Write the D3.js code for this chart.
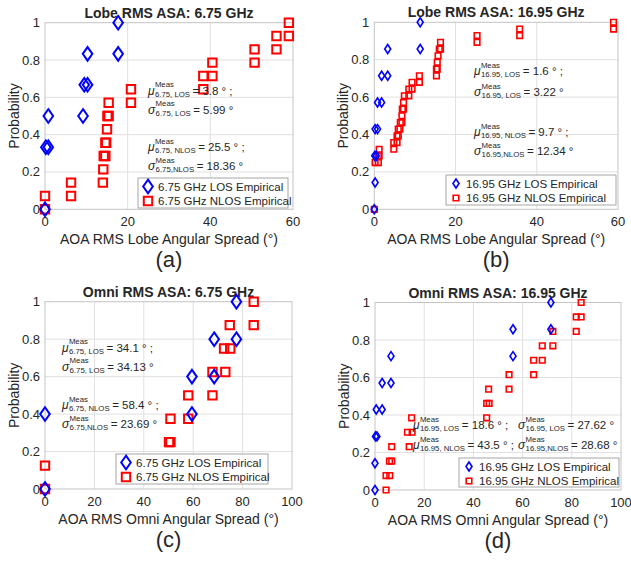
<!DOCTYPE html>
<html>
<head>
<meta charset="utf-8">
<script src="https://cdn.jsdelivr.net/npm/d3@7.9.0/dist/d3.min.js"></script>
<style>
  body { margin: 0; background: #fff; }
  svg { display: block; }
  text { font-family: "Liberation Sans", Arial, sans-serif; fill: #262626; }
</style>
</head>
<body>
<svg width="631" height="562"></svg>
<script>
// ---- data (empirical CDF points) ----
const probTicks = [0, 0.2, 0.4, 0.6, 0.8, 1];
const lobeTicks = [0, 20, 40, 60];
const omniTicks = [0, 20, 40, 60, 80, 100];

// (a) lobe 6.75 GHz
const aLosX = [0, 0.2, 0.8, 0.8, 9.2, 9.5, 10.3, 10.3, 17.7, 17.7];
const aLosY = [0, 0.333, 0.333, 0.5, 0.5, 0.667, 0.667, 0.833, 0.833, 1];
const aNlosX = [0, 0, 6.3, 6.3, 14.0, 14.1, 14.2, 14.6, 14.6, 14.8, 15.0, 15.1, 15.4, 15.4, 20.8, 20.8, 38.3, 38.3, 40.5, 40.5, 50.7, 50.7, 56, 56, 59, 59];
const aNlosY = [0, 0.071, 0.071, 0.143, 0.143, 0.214, 0.286, 0.286, 0.357, 0.357, 0.429, 0.5, 0.5, 0.571, 0.571, 0.643, 0.643, 0.714, 0.714, 0.786, 0.786, 0.857, 0.857, 0.929, 0.929, 1];

// (b) lobe 16.95 GHz
const bLosX = [0, 0.2, 0.1, 0.5, 0.2, 0.8, 0.8, 1.8, 1.8, 3.3, 3.3, 11.3, 11.3];
const bLosY = [0, 0.143, 0.286, 0.286, 0.429, 0.429, 0.571, 0.571, 0.714, 0.714, 0.857, 0.857, 1];
const bNlosX = [0, 0.2, 1.0, 1.0, 1.2, 1.2, 4.8, 4.8, 5.6, 5.6, 5.9, 5.9, 6.3, 6.4, 6.8, 6.8, 6.9, 7.2, 7.2, 7.4, 8.5, 8.5, 9.3, 9.3, 11.1, 11.1, 15.3, 15.3, 15.5, 15.5, 15.7, 16.0, 16.3, 16.3, 25.3, 25.3, 35.8, 35.8, 58.9, 58.9];
const bNlosY = [0, 0.25, 0.25, 0.286, 0.286, 0.321, 0.321, 0.357, 0.357, 0.393, 0.393, 0.429, 0.429, 0.464, 0.464, 0.5, 0.536, 0.536, 0.571, 0.607, 0.607, 0.643, 0.643, 0.679, 0.679, 0.714, 0.714, 0.75, 0.75, 0.786, 0.821, 0.857, 0.857, 0.893, 0.893, 0.929, 0.929, 0.964, 0.964, 1];

// (c) omni 6.75 GHz
const cLosX = [0, 0, 59.5, 59.5, 68.5, 68.5, 77.5, 77.5];
const cLosY = [0, 0.4, 0.4, 0.6, 0.6, 0.8, 0.8, 1];
const cNlosX = [0, 0, 50.2, 50.8, 50.8, 58, 58, 67.8, 67.8, 73, 72.5, 75, 74.8, 84.5, 84.5];
const cNlosY = [0, 0.125, 0.25, 0.25, 0.375, 0.375, 0.5, 0.5, 0.625, 0.625, 0.75, 0.75, 0.875, 0.875, 1];

// (d) omni 16.95 GHz
const dLosX = [0, 0, 0.2, 0.8, 0.5, 2.9, 2.9, 6.5, 6.5, 56.1, 56.1, 71.5, 71.5];
const dLosY = [0, 0.143, 0.286, 0.286, 0.429, 0.429, 0.571, 0.571, 0.714, 0.714, 0.857, 0.857, 1];
const dNlosX = [4.5, 4.5, 6.0, 5.9, 6.8, 6.8, 13.9, 13.2, 15.1, 14.9, 45.4, 45.4, 46.4, 46.2, 54.5, 54.5, 64.5, 64.5, 68, 68, 72.3, 72.3, 81.8, 81.8, 83.8, 83.8];
const dNlosY = [0, 0.077, 0.077, 0.154, 0.154, 0.231, 0.231, 0.308, 0.308, 0.385, 0.385, 0.462, 0.462, 0.538, 0.538, 0.615, 0.615, 0.692, 0.692, 0.769, 0.769, 0.846, 0.846, 0.923, 0.923, 1];

// measured stats: mu LOS, sigma LOS, mu NLOS, sigma NLOS
const aStats = ['3.8', '5.99', '25.5', '18.36'];
const bStats = ['1.6', '3.22', '9.7', '12.34'];
const cStats = ['34.1', '34.13', '58.4', '23.69'];
const dStats = ['18.6', '27.62', '43.5', '28.68'];

const zip = (xs, ys) => xs.map((x, i) => [x, ys[i]]);

const panels = [
  { title: 'Lobe RMS ASA: 6.75 GHz', xlabel: 'AOA RMS Lobe Angular Spread (°)', cap: '(a)', f: '6.75',
    xMax: 60, xTicks: lobeTicks, los: zip(aLosX, aLosY), nlos: zip(aNlosX, aNlosY), stats: aStats,
    L: 45, R: 293, T: 22.7, B: 209.3, big: true,
    leg: { x: 138, y: 178, w: 150, h: 30 },
    ann: { x: 148, ys: [94.5, 113.5, 151, 170] } },
  { title: 'Lobe RMS ASA: 16.95 GHz', xlabel: 'AOA RMS Lobe Angular Spread (°)', cap: '(b)', f: '16.95',
    xMax: 60, xTicks: lobeTicks, los: zip(bLosX, bLosY), nlos: zip(bNlosX, bNlosY), stats: bStats,
    L: 374.3, R: 618, T: 22.3, B: 209.3, big: false,
    leg: { x: 446, y: 175, w: 170, h: 30 },
    ann: { x: 474, ys: [75, 96, 136, 155] } },
  { title: 'Omni RMS ASA: 6.75 GHz', xlabel: 'AOA RMS Omni Angular Spread (°)', cap: '(c)', f: '6.75',
    xMax: 100, xTicks: omniTicks, los: zip(cLosX, cLosY), nlos: zip(cNlosX, cNlosY), stats: cStats,
    L: 45, R: 292, T: 301.7, B: 489, big: true,
    leg: { x: 116, y: 454, w: 152, h: 30 },
    ann: { x: 62, ys: [351.5, 370.5, 409, 428] } },
  { title: 'Omni RMS ASA: 16.95 GHz', xlabel: 'AOA RMS Omni Angular Spread (°)', cap: '(d)', f: '16.95',
    xMax: 100, xTicks: omniTicks, los: zip(dLosX, dLosY), nlos: zip(dNlosX, dNlosY), stats: dStats,
    L: 375, R: 621, T: 302.5, B: 490, big: false,
    leg: { x: 459, y: 458, w: 160, h: 29 },
    ann: { x: 413, x2: 518, ys: [429, 449] } }
];

const svg = d3.select('svg');

function diamond(w, h) { return `M0,${-h}L${w},0L0,${h}L${-w},0Z`; }
function square(s) { return `M${-s},${-s}H${s}V${s}H${-s}Z`; }

// mu/sigma with stacked super- and subscript
function stat(g, x, y, sym, sub, val) {
  const s = g.append('text').attr('x', x).attr('y', y).attr('font-size', 12)
    .attr('font-style', 'italic').text(sym);
  const sx = x + s.node().getComputedTextLength() + 0.3;
  const sup = g.append('text').attr('x', sx).attr('y', y - 7.5).attr('font-size', 7.8).text('Meas');
  const sb = g.append('text').attr('x', sx).attr('y', y + 2.3).attr('font-size', 7.8).text(sub);
  const w = Math.max(sup.node().getComputedTextLength(), sb.node().getComputedTextLength());
  g.append('text').attr('x', sx + w + 2.5).attr('y', y).attr('font-size', 11.5).text('= ' + val);
}

panels.forEach(p => {
  const x = d3.scaleLinear().domain([0, p.xMax]).range([p.L, p.R]);
  const y = d3.scaleLinear().domain([0, 1]).range([p.B, p.T]);
  const g = svg.append('g');

  // grid
  g.append('g').selectAll('line').data(p.xTicks.slice(1, -1)).join('line')
    .attr('x1', d => x(d)).attr('x2', d => x(d)).attr('y1', p.T).attr('y2', p.B)
    .attr('stroke', '#e0e0e0');
  g.append('g').selectAll('line').data(probTicks.slice(1, -1)).join('line')
    .attr('y1', d => y(d)).attr('y2', d => y(d)).attr('x1', p.L).attr('x2', p.R)
    .attr('stroke', '#e0e0e0');
  g.append('rect').attr('x', p.L).attr('y', p.T).attr('width', p.R - p.L).attr('height', p.B - p.T)
    .attr('fill', 'none').attr('stroke', '#c4c4c4');

  // tick labels
  g.append('g').selectAll('text').data(p.xTicks).join('text')
    .attr('x', d => x(d)).attr('y', p.B + 17).attr('text-anchor', 'middle').attr('font-size', 13)
    .text(d => d);
  g.append('g').selectAll('text').data(probTicks).join('text')
    .attr('x', p.L - 5).attr('y', d => y(d) + 4.5).attr('text-anchor', 'end').attr('font-size', 13)
    .text(d => d);

  // labels
  const cx = (p.L + p.R) / 2;
  g.append('text').attr('x', cx).attr('y', p.T - 5).attr('text-anchor', 'middle')
    .attr('font-size', 14).attr('font-weight', 'bold').attr('fill', '#000').text(p.title);
  g.append('text').attr('x', cx).attr('y', p.B + 35).attr('text-anchor', 'middle')
    .attr('font-size', 14).text(p.xlabel);
  g.append('text').attr('transform', `translate(${p.L - 26},${(p.T + p.B) / 2}) rotate(-90)`)
    .attr('text-anchor', 'middle').attr('font-size', 14).text('Probability');
  g.append('text').attr('x', cx).attr('y', p.B + 58).attr('text-anchor', 'middle')
    .attr('font-size', 22).attr('font-family', '"Liberation Serif", "Times New Roman", serif')
    .attr('fill', '#000').text(p.cap);

  // markers
  const dPath = p.big ? diamond(4.8, 6.8) : diamond(3, 4.5);
  const sPath = p.big ? square(4.2) : square(2.8);
  const sw = p.big ? 2 : 1.6;
  g.append('g').selectAll('path').data(p.nlos).join('path')
    .attr('d', sPath).attr('transform', d => `translate(${x(d[0])},${y(d[1])})`)
    .attr('fill', 'none').attr('stroke', '#ff0000').attr('stroke-width', sw);
  g.append('g').selectAll('path').data(p.los).join('path')
    .attr('d', dPath).attr('transform', d => `translate(${x(d[0])},${y(d[1])})`)
    .attr('fill', 'none').attr('stroke', '#0000ff').attr('stroke-width', sw);

  // annotations
  const a = g.append('g');
  const s = p.stats;
  if (p.ann.x2 === undefined) {
    stat(a, p.ann.x, p.ann.ys[0], 'μ', p.f + ', LOS', s[0] + ' ° ;');
    stat(a, p.ann.x, p.ann.ys[1], 'σ', p.f + ', LOS', s[1] + ' °');
    stat(a, p.ann.x, p.ann.ys[2], 'μ', p.f + ', NLOS', s[2] + ' ° ;');
    stat(a, p.ann.x, p.ann.ys[3], 'σ', p.f + ',NLOS', s[3] + ' °');
  } else {
    stat(a, p.ann.x, p.ann.ys[0], 'μ', p.f + ', LOS', s[0] + ' ° ;');
    stat(a, p.ann.x2, p.ann.ys[0], 'σ', p.f + ', LOS', s[1] + ' °');
    stat(a, p.ann.x, p.ann.ys[1], 'μ', p.f + ', NLOS', s[2] + ' ° ;');
    stat(a, p.ann.x2, p.ann.ys[1], 'σ', p.f + ',NLOS', s[3] + ' °');
  }

  // legend
  const lg = g.append('g').attr('transform', `translate(${p.leg.x},${p.leg.y})`);
  lg.append('rect').attr('width', p.leg.w).attr('height', p.leg.h)
    .attr('fill', '#fff').attr('stroke', '#a6a6a6');
  const rows = [
    { path: dPath, color: '#0000ff', label: p.f + ' GHz LOS Empirical' },
    { path: sPath, color: '#ff0000', label: p.f + ' GHz NLOS Empirical' }
  ];
  rows.forEach((r, i) => {
    const ry = 8.5 + i * 14.5;
    lg.append('path').attr('d', r.path).attr('transform', `translate(10,${ry})`)
      .attr('fill', 'none').attr('stroke', r.color).attr('stroke-width', sw);
    lg.append('text').attr('x', 20).attr('y', ry + 4).attr('font-size', 11.5).attr('fill', '#000')
      .text(r.label);
  });
});
</script>
</body>
</html>
